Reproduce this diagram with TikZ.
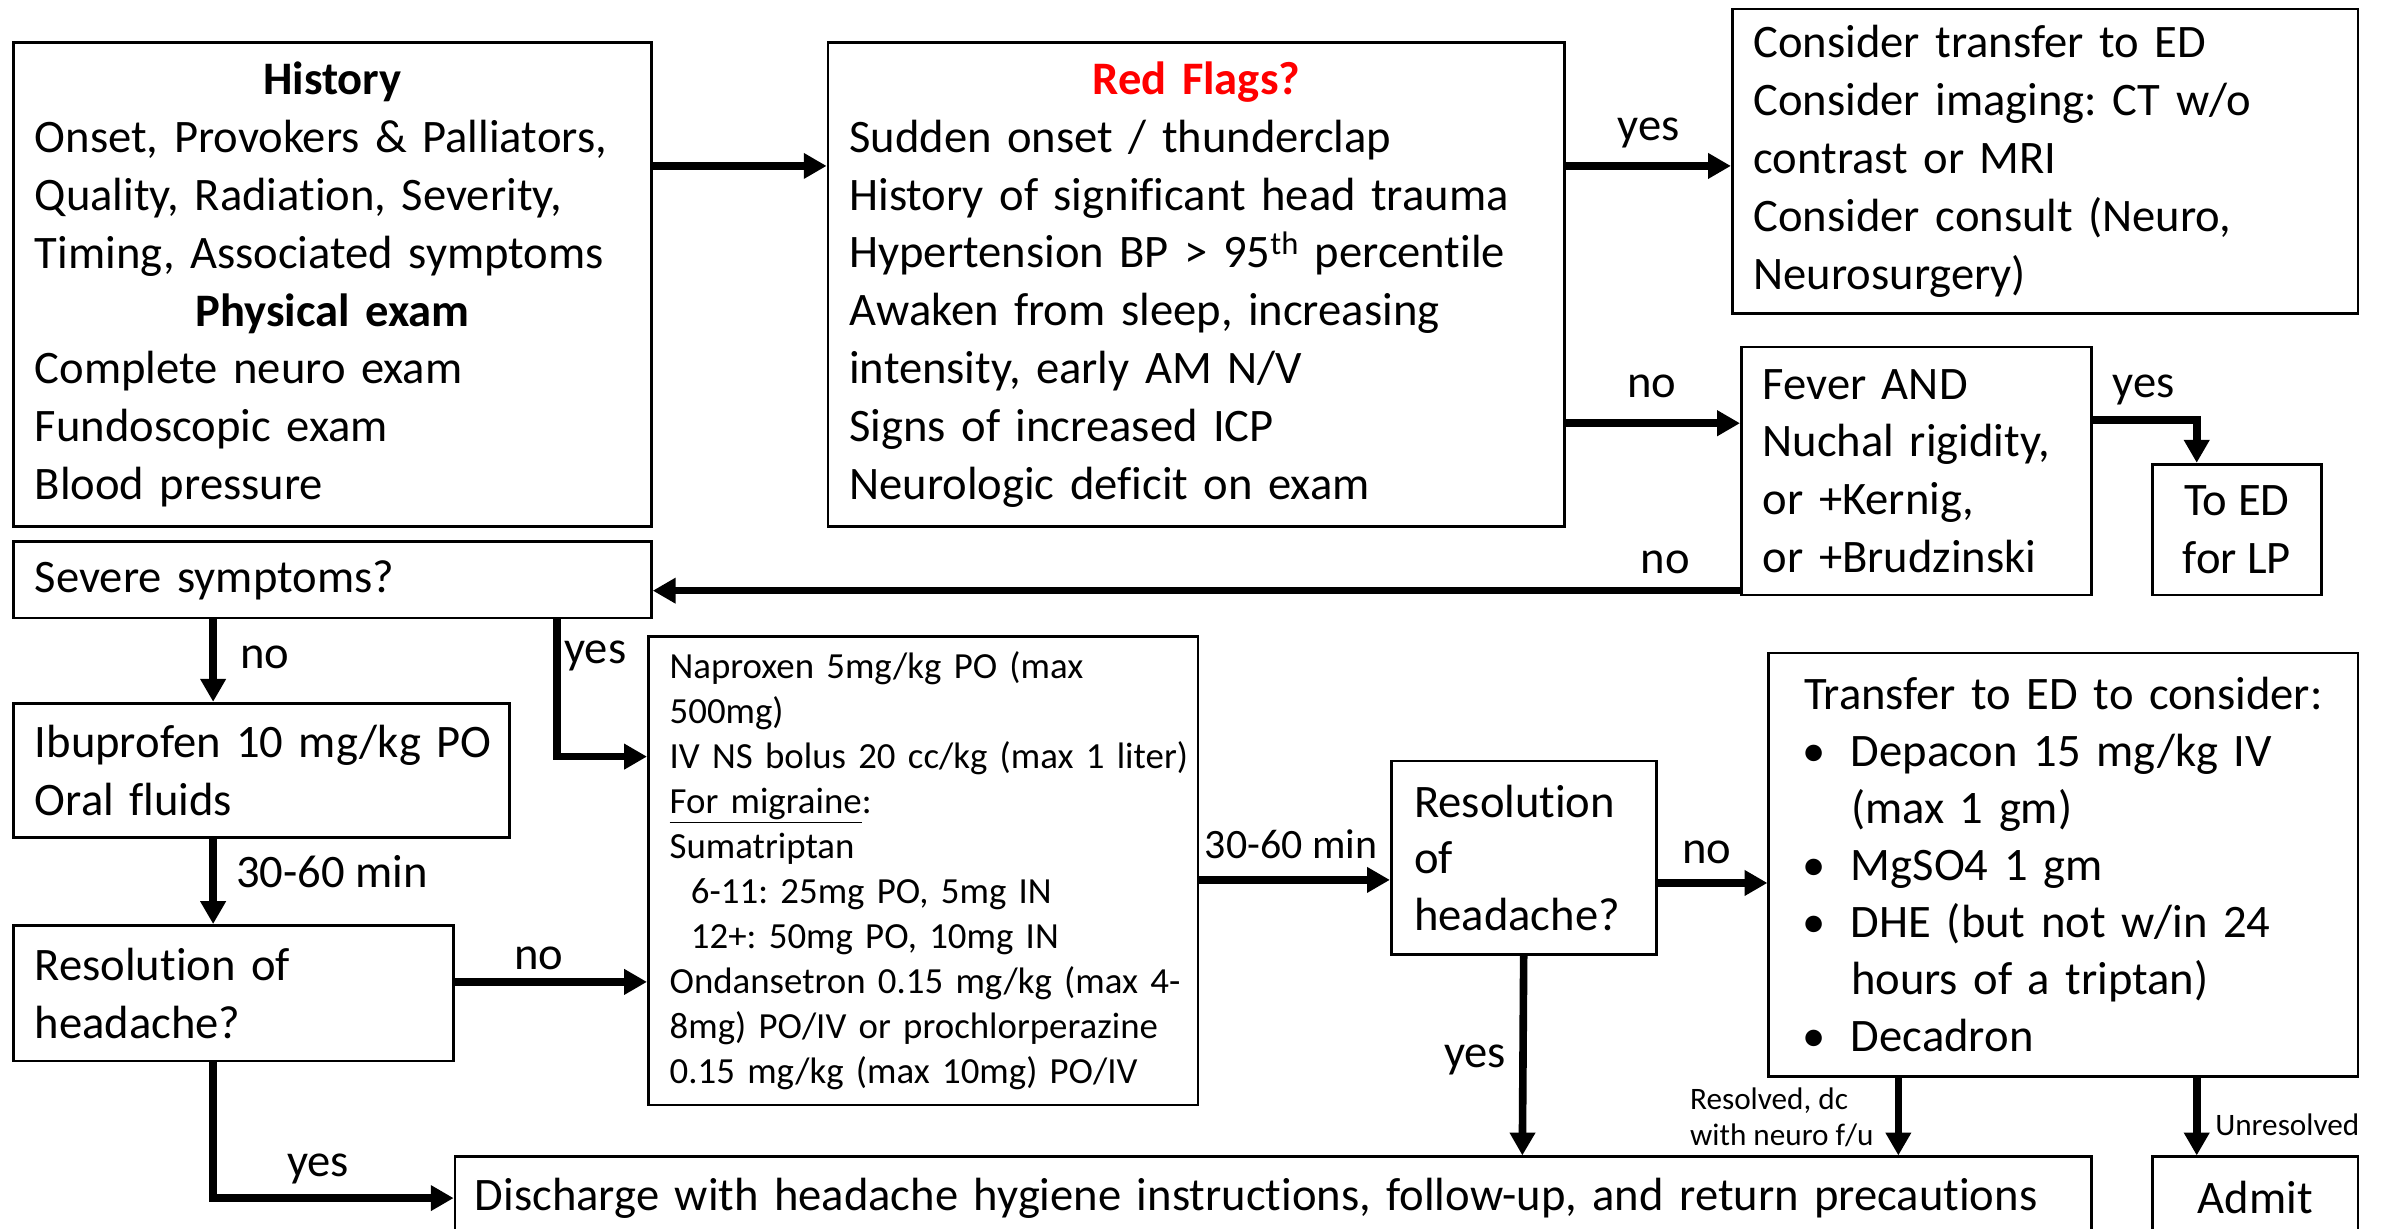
\documentclass[tikz,border=0pt]{standalone}
\usepackage{fontspec}
\setmainfont{Carlito}[Ligatures=NoCommon]
\usetikzlibrary{arrows.meta,calc}
\definecolor{flagred}{RGB}{255,0,0}
\setlength{\parindent}{0pt}
\frenchspacing
\begin{document}
\begin{tikzpicture}[x=1pt,y=-1pt,
 box/.style={draw, line width=1.8pt, anchor=north west, inner ysep=0pt, inner xsep=14pt, align=left},
 big/.style={font=\fontsize{30.6}{38}\selectfont},
 mid/.style={font=\fontsize{24.2}{29.5}\selectfont},
 arr/.style={line width=5pt, -{Triangle[length=15pt,width=16pt]}},
 lbl/.style={inner sep=0pt, font=\fontsize{30.6}{38}\selectfont, text height=21pt, text depth=7pt},
 slbl/.style={inner sep=0pt, align=left, font=\fontsize{20.5}{24}\selectfont},
]
\useasboundingbox (0,0) rectangle (1568,807);
\fill[white] (0,0) rectangle (1568,807);
\clip (0,0) rectangle (1568,807);

% boxes
\node[box,big,minimum width=419pt,minimum height=318pt,text width=391pt] (hist) at (8,27)
 {\makebox[391pt]{\textbf{History}}\\ Onset, Provokers \& Palliators,\\ Quality, Radiation, Severity,\\ Timing, Associated symptoms\\ \makebox[391pt]{\textbf{Physical exam}}\\ Complete neuro exam\\ Fundoscopic exam\\ Blood pressure};

\node[box,big,minimum width=484pt,minimum height=318pt,text width=456pt] (red) at (543,27)
 {\makebox[456pt]{\textcolor{flagred}{\textbf{Red Flags?}}}\\ Sudden onset / thunderclap\\ History of significant head trauma\\ Hypertension BP > 95\textsuperscript{th} percentile\\ Awaken from sleep, increasing\\ intensity, early AM N/V\\ Signs of increased ICP\\ Neurologic deficit on exam};

\node[box,big,minimum width=411pt,minimum height=200pt,text width=383pt] (cons) at (1137,5)
 {Consider transfer to ED\\ Consider imaging: CT w/o\\ contrast or MRI\\ Consider consult (Neuro,\\ Neurosurgery)};

\node[box,big,minimum width=230pt,minimum height=163pt,text width=202pt] (fever) at (1143,227)
 {Fever AND\\ Nuchal rigidity,\\ or +Kernig,\\ or +Brudzinski};

\node[box,big,align=center,minimum width=111pt,minimum height=86pt,inner xsep=0pt] (toed) at (1413,304)
 {To ED\\ for LP};

\node[box,big,minimum width=419pt,minimum height=50pt,text width=391pt] (sev) at (8,355)
 {Severe symptoms?};

\node[box,big,minimum width=326pt,minimum height=88pt,text width=298pt] (ibu) at (8,461)
 {\mbox{Ibuprofen 10 mg/kg PO}\\ Oral fluids};

\node[box,big,minimum width=289pt,minimum height=89pt,text width=261pt] (resl) at (8,607)
 {Resolution of\\ headache?};

\node[box,mid,minimum width=361pt,minimum height=308pt,text width=333pt] (nap) at (425,417)
 {\mbox{Naproxen 5mg/kg PO (max}\\ 500mg)\\ \mbox{IV NS bolus 20 cc/kg (max 1 liter)}\\ \underline{For migraine}:\\ Sumatriptan\\ \hspace*{14pt}\mbox{6-11: 25mg PO, 5mg IN}\\ \hspace*{14pt}\mbox{12+: 50mg PO, 10mg IN}\\ \mbox{Ondansetron 0.15 mg/kg (max 4-}\\ \mbox{8mg) PO/IV or prochlorperazine}\\ \mbox{0.15 mg/kg (max 10mg) PO/IV}};

\node[box,big,minimum width=174pt,minimum height=127pt,text width=144pt,inner xsep=15pt,font=\fontsize{30.6}{37}\selectfont] (resm) at (913,499)
 {Resolution\\ of\\ headache?};

\node[box,minimum width=387pt,minimum height=278pt,text width=343pt,inner xsep=22pt,font=\fontsize{30.6}{37.5}\selectfont] (trans) at (1161,428)
 {\makebox[343pt]{Transfer to ED to consider:}\\
  \makebox[32pt][l]{\textbullet}Depacon 15 mg/kg IV\\
  \hspace*{32pt}(max 1 gm)\\
  \makebox[32pt][l]{\textbullet}MgSO4 1 gm\\
  \makebox[32pt][l]{\textbullet}DHE (but not w/in 24\\
  \hspace*{32pt}hours of a triptan)\\
  \makebox[32pt][l]{\textbullet}Decadron};

\node[box,big,minimum width=1075pt,minimum height=54pt,text width=1049pt,inner xsep=13pt] (disc) at (298,759)
 {\mbox{Discharge with headache hygiene instructions, follow-up, and return precautions}};

\node[box,big,align=center,minimum width=135pt,minimum height=54pt,inner xsep=0pt] (admit) at (1413,759)
 {Admit};

% arrows
\draw[arr] ($(hist.north east)+(0,82)$) -- ($(red.north west)+(0,82)$);
\draw[arr] ($(red.north east)+(0,82)$) -- ($(cons.north west)+(0,104)$);
\draw[arr] ($(red.north east)+(0,251)$) -- ($(fever.north west)+(0,51)$);
\draw[arr] ($(fever.north east)+(0,49)$) -| ($(toed.north west)+(30,0)$);
\draw[arr] ($(fever.north west)+(0,161)$) -- ($(sev.north east)+(0,33)$);
\draw[arr] ($(sev.south west)+(132,0)$) -- ($(ibu.north west)+(132,0)$);
\draw[arr] ($(sev.south west)+(358,0)$) |- ($(nap.north west)+(0,80)$);
\draw[arr] ($(ibu.south west)+(132,0)$) -- ($(resl.north west)+(132,0)$);
\draw[arr] ($(resl.north east)+(0,38)$) -- ($(nap.north west)+(0,228)$);
\draw[arr] ($(resl.south west)+(132,0)$) |- ($(disc.north west)+(0,28)$);
\draw[arr] ($(nap.north east)+(0,161)$) -- ($(resm.north west)+(0,79)$);
\draw[arr] ($(resm.north east)+(0,81)$) -- ($(trans.north west)+(0,152)$);
\draw[arr] (resm.south) -- ($(disc.north west)+(702,0)$);
\draw[arr] ($(trans.south west)+(86,0)$) -- ($(disc.north west)+(949,0)$);
\draw[arr] ($(trans.south west)+(282,0)$) -- ($(admit.north west)+(30,0)$);

% labels
\node[lbl] (l1) at (1083,85) {yes};
\node[lbl] (l2) at (1085,254) {no};
\node[lbl] (l3) at (1408,254) {yes};
\node[lbl] (l4) at (1094,370) {no};
\node[lbl] (l5) at (174,432) {no};
\node[lbl] (l6) at (391,429) {yes};
\node[lbl] (l7) at (218,576) {30-60 min};
\node[lbl] (l8) at (354,630) {no};
\node[lbl] (l9) at (209,766) {yes};
\node[lbl,font=\fontsize{27.5}{33}\selectfont] (l10) at (848,557) {30-60 min};
\node[lbl] (l11) at (1121,560) {no};
\node[lbl] (l12) at (969,694) {yes};
\node[slbl,anchor=west] (l13) at (1110,734) {Resolved, dc\\ with neuro f/u};
\node[slbl,anchor=west] (l14) at (1455,739) {Unresolved};
\end{tikzpicture}
\end{document}
